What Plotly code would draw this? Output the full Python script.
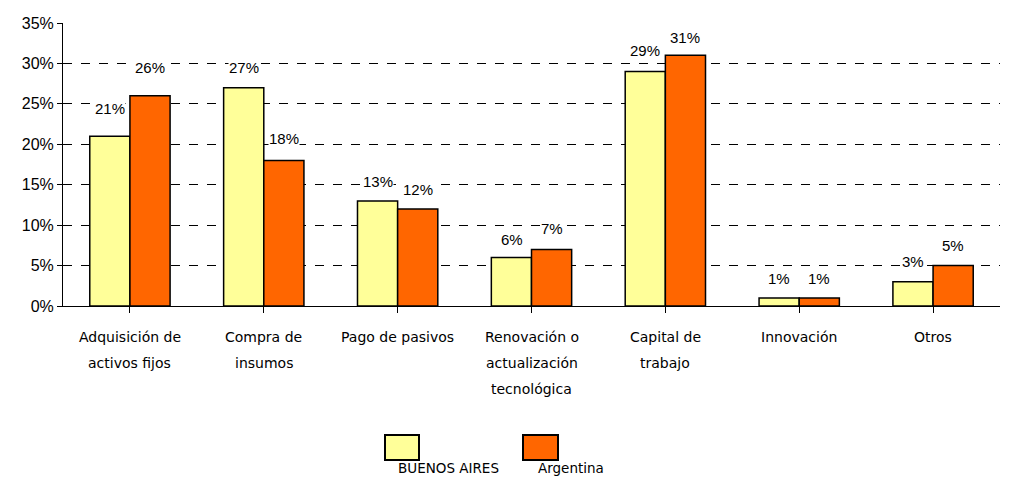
import plotly.graph_objects as go

categories = ["Adquisición de\nactivos fijos", "Compra de\ninsumos", "Pago de pasivos",
              "Renovación o\nactualización\ntecnológica", "Capital de\ntrabajo", "Innovación", "Otros"]
buenos_aires = [21, 27, 13, 6, 29, 1, 3]
argentina = [26, 18, 12, 7, 31, 1, 5]
y_ticks = [0, 5, 10, 15, 20, 25, 30, 35]
series_names = ["BUENOS AIRES", "Argentina"]
colors = ["#FFFF99", "#FF6600"]

ba_label_shift = [28, 20, 19, 18, 21, 19, 20]
ar_label_shift = [28, 22, 19, 21, 18, 19, 20]

# plot area in page pixels
W, H = 1009, 477
PX_L, PX_R, PX_T, PX_B = 63, 1000, 23, 306
PW, PH = PX_R - PX_L, PX_B - PX_T

def px_x(px):
    return (px - PX_L) / PW

def px_y(py):
    return (PX_B - py) / PH

fig = go.Figure()
for name, vals, col in zip(series_names, [buenos_aires, argentina], colors):
    fig.add_trace(go.Bar(x=list(range(len(categories))), y=vals, name=name,
                         marker=dict(color=col, line=dict(color="black", width=1.5))))

label_font = dict(family="Liberation Sans", size=15, color="black")
cat_font = dict(family="DejaVu Sans", size=14, color="black")
annotations = []
for i in range(len(categories)):
    annotations.append(dict(x=i, y=buenos_aires[i], xref="x", yref="y", text=f"{buenos_aires[i]}%",
                            showarrow=False, xshift=-20, yshift=ba_label_shift[i], font=label_font,
                            bgcolor="white", borderpad=0))
    annotations.append(dict(x=i, y=argentina[i], xref="x", yref="y", text=f"{argentina[i]}%",
                            showarrow=False, xshift=20, yshift=ar_label_shift[i], font=label_font,
                            bgcolor="white", borderpad=0))
    for k, line in enumerate(categories[i].split("\n")):
        annotations.append(dict(x=i, y=0, xref="x", yref="y", text=line, showarrow=False,
                                yanchor="middle", yshift=-31 - 26 * k, font=cat_font))

# legend drawn manually
fig.add_shape(type="rect", xref="paper", yref="paper",
              x0=px_x(385), x1=px_x(419), y0=px_y(460), y1=px_y(435),
              line=dict(color="black", width=2), fillcolor=colors[0])
fig.add_shape(type="rect", xref="paper", yref="paper",
              x0=px_x(523), x1=px_x(558), y0=px_y(460), y1=px_y(435),
              line=dict(color="black", width=2), fillcolor=colors[1])
legend_font = dict(family="DejaVu Sans", size=13.5, color="black")
annotations.append(dict(xref="paper", yref="paper", x=px_x(448), y=px_y(468), text=series_names[0],
                        showarrow=False, yanchor="middle", font=legend_font))
annotations.append(dict(xref="paper", yref="paper", x=px_x(571), y=px_y(468), text=series_names[1],
                        showarrow=False, yanchor="middle", font=legend_font))

fig.update_layout(
    width=W, height=H,
    margin=dict(l=PX_L, r=W - PX_R, t=PX_T, b=H - PX_B),
    plot_bgcolor="white", paper_bgcolor="white",
    barmode="group", bargap=0.4, bargroupgap=0,
    showlegend=False,
    annotations=annotations,
    xaxis=dict(range=[-0.5, 6.5], tickvals=list(range(len(categories))), ticktext=[""] * len(categories),
               showline=True, linecolor="black", linewidth=1, ticks="outside", ticklen=6,
               tickcolor="black", tickson="boundaries", showgrid=False, zeroline=False),
    yaxis=dict(range=[0, 35], tickvals=y_ticks, ticktext=[f"{v}%" for v in y_ticks],
               showline=True, linecolor="black", linewidth=1, ticks="outside", ticklen=5,
               tickcolor="black", showgrid=True, gridcolor="black", griddash="dash", gridwidth=1,
               zeroline=False, tickfont=dict(family="Liberation Sans", size=16, color="black")),
)

fig.write_html("out.html", config={"displayModeBar": False},
               post_script="document.body.style.margin='0';document.body.style.overflow='hidden';")
